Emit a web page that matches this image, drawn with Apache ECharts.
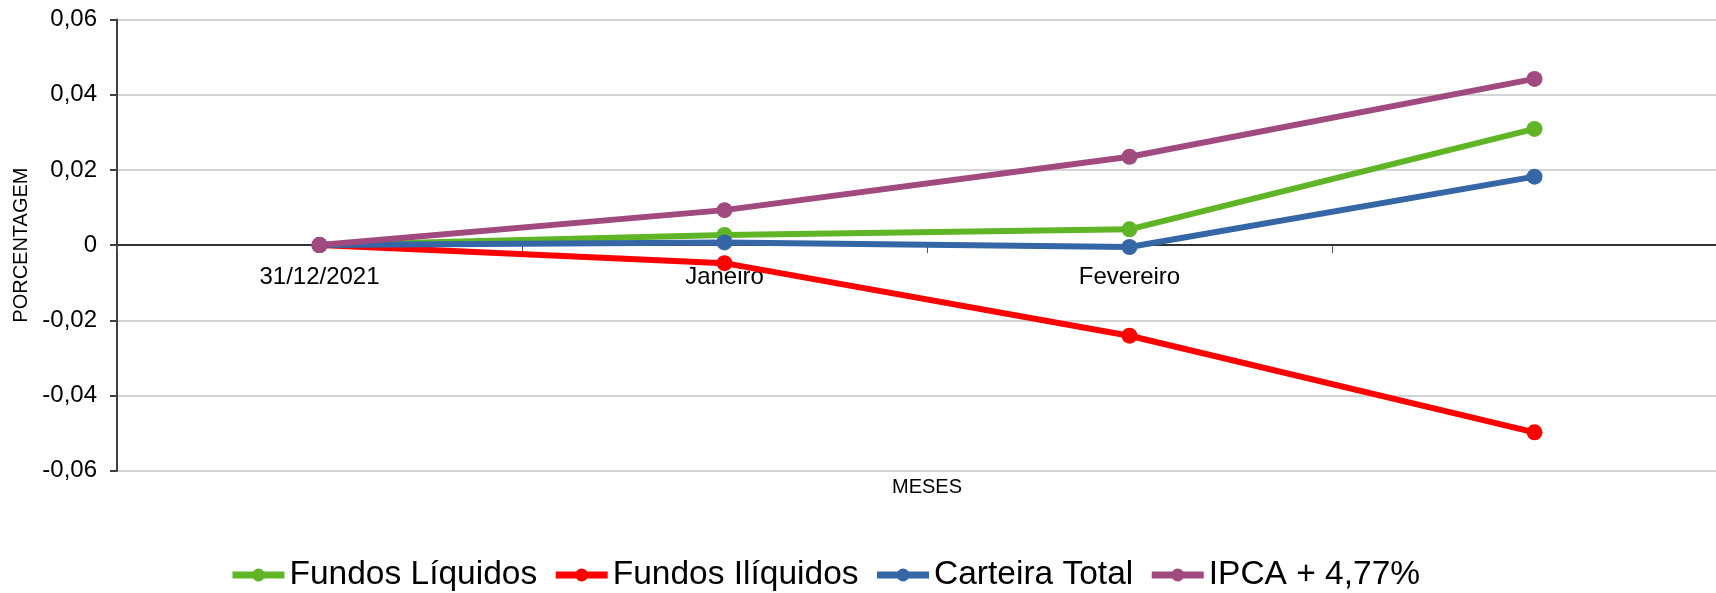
<!DOCTYPE html>
<html>
<head>
<meta charset="utf-8">
<script src="https://cdn.jsdelivr.net/npm/echarts@6/dist/echarts.min.js"></script>
<style>html,body{margin:0;padding:0;background:#fff;}#c{width:1716px;height:593px;}</style>
</head>
<body>
<div id="c"></div>
<script>
const categories = ['31/12/2021', 'Janeiro', 'Fevereiro', ''];
const seriesNames = ['Fundos Líquidos', 'Fundos Ilíquidos', 'Carteira Total', 'IPCA + 4,77%'];
const fundosLiquidos = [0, 0.0027, 0.0042, 0.0309];
const fundosIliquidos = [0, -0.0048, -0.0241, -0.0498];
const carteiraTotal = [0, 0.0007, -0.0005, 0.0182];
const ipca = [0, 0.0093, 0.0235, 0.0442];
const colors = ['#5fb526', '#ff0000', '#3566a6', '#a04a80'];

const FONT = 'Liberation Sans, Arial, sans-serif';
const chart = echarts.init(document.getElementById('c'), null, {renderer: 'canvas'});
const dataSets = [fundosLiquidos, fundosIliquidos, carteiraTotal, ipca];
const GRID_TOP = 19.5, GRID_H = 451.2;
const Y_MIN = -0.06, Y_MAX = 0.06;
// offset that moves the category axis from the grid bottom to the zero line
const zeroOffset = -GRID_H * (0 - Y_MIN) / (Y_MAX - Y_MIN);
chart.setOption({
  animation: false,
  backgroundColor: '#ffffff',
  grid: {left: 117, top: GRID_TOP, width: 1620, height: GRID_H, containLabel: false, outerBoundsMode: 'none'},
  legend: {
    left: 224, top: 553,
    itemWidth: 52, itemHeight: 16, itemGap: 15,
    lineStyle: {width: 7},
    textStyle: {fontFamily: FONT, fontSize: 33.5, color: '#000'},
    data: seriesNames
  },
  xAxis: {
    type: 'category',
    data: categories,
    boundaryGap: true,
    offset: zeroOffset,
    name: 'MESES',
    nameLocation: 'middle',
    nameGap: 232,
    nameTextStyle: {fontFamily: FONT, fontSize: 20, color: '#000'},
    axisLine: {onZero: false, lineStyle: {color: '#333', width: 2}},
    axisTick: {show: true, length: 8, lineStyle: {color: '#555', width: 1}},
    axisLabel: {fontFamily: FONT, fontSize: 24, color: '#000', margin: 20, interval: 0},
    splitLine: {show: false}
  },
  yAxis: {
    type: 'value',
    min: Y_MIN, max: Y_MAX, interval: 0.02,
    name: 'PORCENTAGEM',
    nameLocation: 'middle',
    nameGap: 84,
    nameTextStyle: {fontFamily: FONT, fontSize: 20, color: '#000'},
    axisLine: {show: true, lineStyle: {color: '#404040', width: 2}},
    axisTick: {show: true, length: 7, lineStyle: {color: '#404040', width: 2}},
    axisLabel: {
      fontFamily: FONT, fontSize: 24, color: '#000', margin: 20,
      formatter: v => Math.abs(v) < 1e-9 ? '0' : v.toFixed(2).replace('.', ',')
    },
    splitLine: {show: true, lineStyle: {color: '#c6c6c6', width: 1.5}}
  },
  series: seriesNames.map((n, i) => ({
    name: n,
    type: 'line',
    data: dataSets[i],
    color: colors[i],
    symbol: 'circle',
    symbolSize: 16,
    lineStyle: {width: 6, color: colors[i]},
    itemStyle: {color: colors[i]}
  }))
});
</script>
</body>
</html>
